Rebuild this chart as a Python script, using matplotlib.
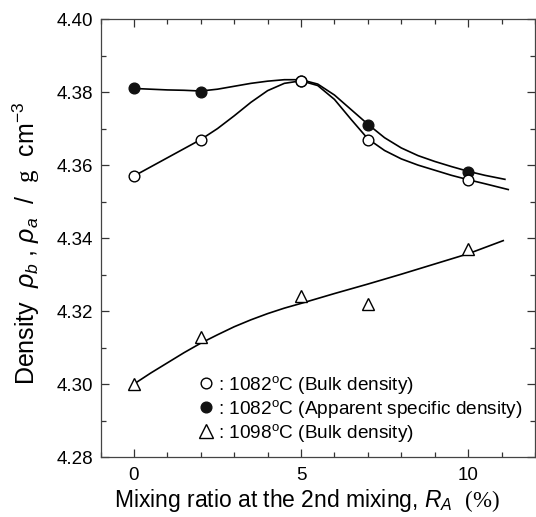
import matplotlib
matplotlib.use("Agg")
import matplotlib.pyplot as plt
from matplotlib.ticker import MultipleLocator, FormatStrFormatter
from matplotlib.lines import Line2D

plt.rcParams['font.family'] = ['Liberation Sans', 'DejaVu Sans']
plt.rcParams['mathtext.fontset'] = 'custom'
plt.rcParams['mathtext.rm'] = 'Liberation Serif'
plt.rcParams['mathtext.it'] = 'Liberation Sans:italic'
plt.rcParams['mathtext.bf'] = 'Liberation Sans:bold'
plt.rcParams['mathtext.sf'] = 'Liberation Sans'

# ---- data ----
ratio = [0, 2, 5, 7, 10]
bulk_1082 = [4.357, 4.367, 4.383, 4.367, 4.356]
apparent_1082 = [4.381, 4.380, 4.383, 4.371, 4.358]
bulk_1098 = [4.300, 4.313, 4.324, 4.322, 4.337]

# smooth guide curves
curve_x_a = [0, 0.5, 1, 1.5, 2, 2.5, 3, 3.5, 4, 4.5, 5, 5.5, 6, 6.5, 7, 7.5,
             8, 8.5, 9, 9.5, 10, 10.5, 11.1]
curve_apparent = [4.3810, 4.3808, 4.3806, 4.3805, 4.3803, 4.3808, 4.3816,
                  4.3824, 4.3830, 4.3834, 4.3834, 4.3822, 4.3792, 4.3752,
                  4.3712, 4.3675, 4.3647, 4.3626, 4.3610, 4.3596, 4.3583,
                  4.3572, 4.3561]
curve_x_b = [0, 0.5, 1, 1.5, 2, 2.5, 3, 3.5, 4, 4.5, 5, 5.5, 6, 6.5, 7, 7.5,
             8, 8.5, 9, 9.5, 10, 10.5, 11.2]
curve_bulk = [4.3570, 4.3595, 4.3620, 4.3645, 4.3670, 4.3700, 4.3735, 4.3772,
              4.3804, 4.3824, 4.3831, 4.3818, 4.3780, 4.3725, 4.3672, 4.3640,
              4.3617, 4.3600, 4.3586, 4.3572, 4.3560, 4.3549, 4.3533]
curve_x_c = [0, 0.5, 1, 1.5, 2, 2.5, 3, 3.5, 4, 4.5, 5, 6, 7, 8, 9, 10, 11.05]
curve_1098 = [4.3000, 4.3030, 4.3058, 4.3086, 4.3112, 4.3135, 4.3157, 4.3176,
              4.3193, 4.3208, 4.3221, 4.3248, 4.3274, 4.3301, 4.3329, 4.3357,
              4.3393]

labels = [': 1082$^{\\mathsf{o}}$C (Bulk density)',
          ': 1082$^{\\mathsf{o}}$C (Apparent specific density)',
          ': 1098$^{\\mathsf{o}}$C (Bulk density)']

fig = plt.figure(figsize=(5.36, 5.17), dpi=100)
ax = fig.add_axes([0.1875, 0.116, 0.8106, 0.847])

lw = 1.2
ax.plot(curve_x_a, curve_apparent, color='black', lw=lw, zorder=2)
ax.plot(curve_x_b, curve_bulk, color='black', lw=lw, zorder=2)
ax.plot(curve_x_c, curve_1098, color='black', lw=lw, zorder=2)

ax.plot(ratio, apparent_1082, 'o', ms=7.7, mfc='#111111', mec='#111111',
        mew=1.0, zorder=3)
ax.plot(ratio, bulk_1082, 'o', ms=7.7, mfc='white', mec='black',
        mew=1.0, zorder=4)
ax.plot(ratio, bulk_1098, '^', ms=8.5, mfc='white', mec='black',
        mew=1.0, zorder=4)

ax.set_xlim(-1, 12)
ax.set_ylim(4.28, 4.40)
ax.xaxis.set_major_locator(MultipleLocator(5))
ax.xaxis.set_minor_locator(MultipleLocator(1))
ax.yaxis.set_major_locator(MultipleLocator(0.02))
ax.yaxis.set_minor_locator(MultipleLocator(0.01))
ax.yaxis.set_major_formatter(FormatStrFormatter('%.2f'))
ax.tick_params(which='both', direction='in', top=True, right=True,
               labelsize=13.5, width=0.9, color='#333333')
ax.tick_params(which='major', length=5.8)
ax.tick_params(which='minor', length=3.6)
ax.tick_params(axis='x', which='major', pad=7.5)
ax.tick_params(axis='y', which='major', pad=5.5)
for s in ax.spines.values():
    s.set_linewidth(0.9)
    s.set_color('#444444')

ax.set_xlabel('Mixing ratio at the 2nd mixing, $R_A\\ \\ \\mathrm{(\\%)}$',
              fontsize=16.5)
ax.xaxis.set_label_coords(0.475, -0.068)
ax.set_ylabel('Density  $\\rho_b$ , $\\rho_a$  /  $\\mathrm{g}$  cm$^{\\mathsf{-3}}$',
              fontsize=18)
ax.yaxis.set_label_coords(-0.134, 0.487)

handles = [
    Line2D([], [], ls='none', marker='o', ms=7.7, mfc='white', mec='black', mew=1.0),
    Line2D([], [], ls='none', marker='o', ms=7.7, mfc='#111111', mec='#111111', mew=1.0),
    Line2D([], [], ls='none', marker='^', ms=9.5, mfc='white', mec='black', mew=1.0),
]
leg = ax.legend(handles, labels, loc='upper left', frameon=False,
                bbox_to_anchor=(0.226, 0.19), fontsize=13.7,
                handlelength=0.8, handletextpad=0.2, labelspacing=0.1,
                borderaxespad=0, borderpad=0)

fig.savefig('out.png', dpi=100)
